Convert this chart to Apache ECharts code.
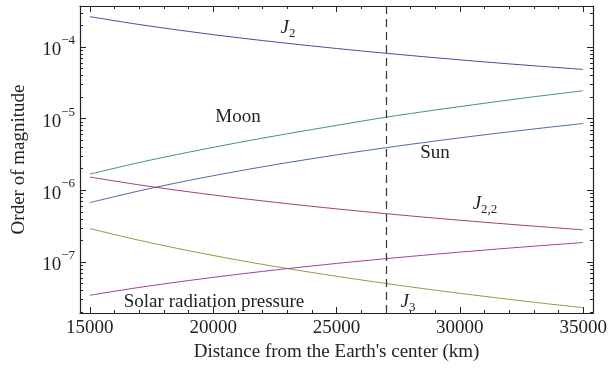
<!DOCTYPE html>
<html>
<head>
<meta charset="utf-8">
<script src="https://cdn.jsdelivr.net/npm/echarts@6/dist/echarts.min.js"></script>
<style>
  html, body { margin: 0; padding: 0; background: #fff; }
  #container { width: 615px; height: 376px; }
</style>
</head>
<body>
<div id="container"></div>
<script>
// distances (km) and relative perturbation magnitudes
const distance = [15000, 17000, 19000, 21000, 23000, 25000, 27000, 29000, 31000, 33000, 35000];
const j2   = [2.65e-4, 2.06e-4, 1.65e-4, 1.35e-4, 1.127e-4, 9.54e-5, 8.18e-5, 7.09e-5, 6.2e-5, 5.47e-5, 4.87e-5];
const moon = [1.68e-6, 2.44e-6, 3.40e-6, 4.62e-6, 6.15e-6, 8.05e-6, 1.047e-5, 1.32e-5, 1.64e-5, 2.02e-5, 2.45e-5];
const sun  = [6.74e-7, 9.81e-7, 1.37e-6, 1.849e-6, 2.43e-6, 3.12e-6, 3.931e-6, 4.871e-6, 5.949e-6, 7.177e-6, 8.563e-6];
const j22  = [1.53e-6, 1.191e-6, 9.54e-7, 7.81e-7, 6.51e-7, 5.51e-7, 4.72e-7, 4.09e-7, 3.58e-7, 3.16e-7, 2.81e-7];
const j3   = [2.92e-7, 2.006e-7, 1.437e-7, 1.064e-7, 8.1e-8, 6.31e-8, 5.01e-8, 4.04e-8, 3.31e-8, 2.74e-8, 2.3e-8];
const srp  = [3.43e-8, 4.41e-8, 5.5e-8, 6.72e-8, 8.07e-8, 9.53e-8, 1.111e-7, 1.282e-7, 1.465e-7, 1.66e-7, 1.867e-7];
const geoLine = 27000;

const xMajorTicks = [15000, 20000, 25000, 30000, 35000];
const xMinorTicks = [16000, 17000, 18000, 19000, 21000, 22000, 23000, 24000, 26000, 27000, 28000, 29000,
                     31000, 32000, 33000, 34000];
const yMajorTicks = [1e-7, 1e-6, 1e-5, 1e-4];
const yMinorTicks = [2e-8, 3e-8, 4e-8, 5e-8, 6e-8, 7e-8, 8e-8, 9e-8,
                     2e-7, 3e-7, 4e-7, 5e-7, 6e-7, 7e-7, 8e-7, 9e-7,
                     2e-6, 3e-6, 4e-6, 5e-6, 6e-6, 7e-6, 8e-6, 9e-6,
                     2e-5, 3e-5, 4e-5, 5e-5, 6e-5, 7e-5, 8e-5, 9e-5,
                     2e-4, 3e-4];

const FONT = 'Liberation Serif';
const INK = '#222';
const X_MIN = 14600, X_MAX = 35400;
const Y_MIN = 1.939e-8, Y_MAX = 3.735e-4;

const chart = echarts.init(document.getElementById('container'), null, { renderer: 'canvas' });

function xAxisDef(position, ticks, len, main) {
  return {
    type: 'value', position: position, min: X_MIN, max: X_MAX,
    name: main && position === 'bottom' ? "Distance from the Earth's center (km)" : '',
    nameLocation: 'middle', nameGap: 30,
    nameTextStyle: { fontFamily: FONT, fontSize: 19, color: INK },
    axisLine: { show: main, onZero: false, lineStyle: { color: INK, width: 1.2 } },
    axisTick: { show: true, inside: true, length: len, customValues: ticks, lineStyle: { color: INK, width: 1 } },
    axisLabel: {
      show: main && position === 'bottom', customValues: ticks, margin: 6,
      formatter: v => String(v),
      fontFamily: FONT, fontSize: 19, color: INK
    },
    splitLine: { show: false }
  };
}

function yAxisDef(position, ticks, len, main) {
  return {
    type: 'log', logBase: 10, position: position, min: Y_MIN, max: Y_MAX,
    name: main && position === 'left' ? 'Order of magnitude' : '',
    nameLocation: 'middle', nameGap: 51,
    nameTextStyle: { fontFamily: FONT, fontSize: 19, color: INK },
    axisLine: { show: main, onZero: false, lineStyle: { color: INK, width: 1.2 } },
    axisTick: { show: true, inside: true, length: len, customValues: ticks, lineStyle: { color: INK, width: 1 } },
    axisLabel: {
      show: main && position === 'left', customValues: ticks, margin: 5,
      formatter: function (v) {
        return '{b|10}{s|\u2212' + Math.round(-Math.log10(v)) + '}';
      },
      rich: {
        b: { fontFamily: FONT, fontSize: 19, color: INK, verticalAlign: 'bottom', lineHeight: 26 },
        s: { fontFamily: FONT, fontSize: 13, color: INK, verticalAlign: 'top', lineHeight: 26 }
      }
    },
    splitLine: { show: false }
  };
}

function curve(values, color, extra) {
  return Object.assign({
    type: 'line',
    data: distance.map((d, i) => [d, values[i]]),
    showSymbol: false, smooth: 0.3, silent: true,
    lineStyle: { color: color, width: 1 },
    itemStyle: { color: color }
  }, extra || {});
}

function label(text, x, y, rich) {
  return {
    type: 'text', x: x, y: y, silent: true,
    style: {
      text: text, fontFamily: FONT, fontSize: 19, fill: INK,
      align: 'center', verticalAlign: 'middle', rich: rich
    }
  };
}

const jRich = {
  i: { fontFamily: FONT, fontSize: 19, fontStyle: 'italic', fill: INK, verticalAlign: 'middle', lineHeight: 22 },
  sub: { fontFamily: FONT, fontSize: 13, fill: INK, verticalAlign: 'bottom', lineHeight: 25 }
};

const option = {
  animation: false,
  grid: { left: 80, right: 22, top: 6, bottom: 63, containLabel: false },
  xAxis: [
    xAxisDef('bottom', xMajorTicks, 6, true),
    xAxisDef('bottom', xMinorTicks, 3, false),
    xAxisDef('top', xMajorTicks, 6, true),
    xAxisDef('top', xMinorTicks, 3, false)
  ],
  yAxis: [
    yAxisDef('left', yMajorTicks, 6, true),
    yAxisDef('left', yMinorTicks, 3, false),
    yAxisDef('right', yMajorTicks, 6, true),
    yAxisDef('right', yMinorTicks, 3, false)
  ],
  series: [
    curve(j2, '#4a48a6', {
      markLine: {
        silent: true, symbol: 'none', label: { show: false },
        lineStyle: { type: [8, 5], color: '#333', width: 1.2 },
        data: [{ xAxis: geoLine }]
      }
    }),
    curve(moon, '#3f9a5c'),
    curve(sun, '#4a66ae'),
    curve(j22, '#a33d7c'),
    curve(j3, '#a0923e'),
    curve(srp, '#a23ca2')
  ],
  graphic: [
    label('{i|J}{sub|2}', 288, 28, jRich),
    label('Moon', 238, 117),
    label('Sun', 435, 153),
    label('{i|J}{sub|2,2}', 485, 204, jRich),
    label('Solar radiation pressure', 214, 302),
    label('{i|J}{sub|3}', 408, 302, jRich)
  ]
};

chart.setOption(option);
window.addEventListener('resize', () => chart.resize());
</script>
</body>
</html>
